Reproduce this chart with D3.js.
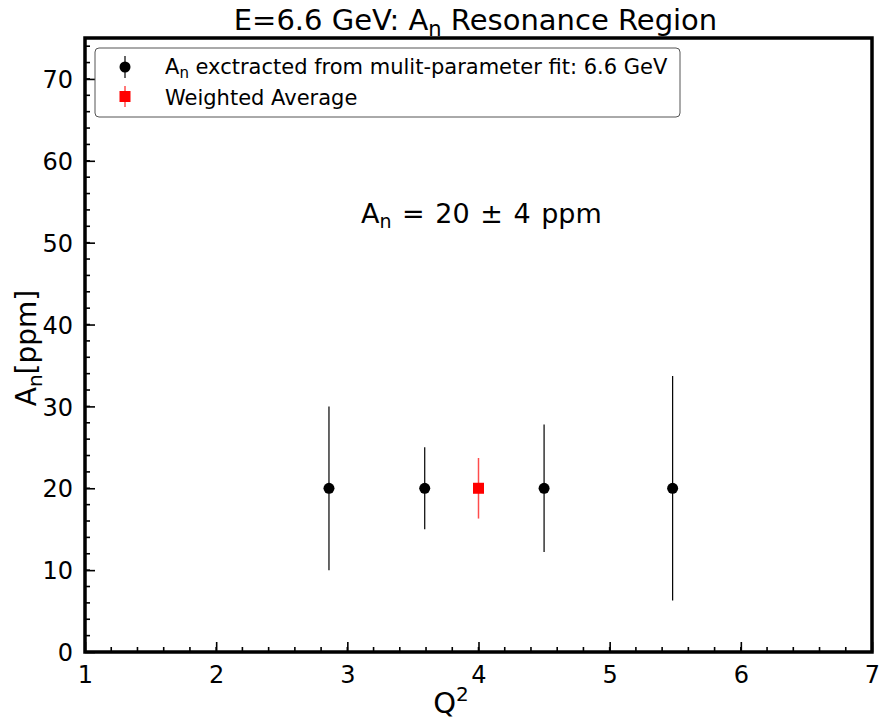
<!DOCTYPE html>
<html>
<head>
<meta charset="utf-8">
<script src="https://cdn.jsdelivr.net/npm/d3@7"></script>
<style>
  body { margin: 0; background: #fff; }
  svg { font-family: "DejaVu Sans", sans-serif; }
</style>
</head>
<body>
<div id="chart"></div>
<script>
const margin = { top: 38, right: 11, bottom: 72, left: 85 };
const width = 883 - margin.left - margin.right;
const height = 724 - margin.top - margin.bottom;

// Data
const q2 = [2.86, 3.59, 4.5, 5.48];
const an = [20, 20, 20, 20];
const anErr = [10, 5, 7.8, 13.7];
const avgQ2 = [4.0];
const avgAn = [20];
const avgErr = [3.7];
const xTicks = [1, 2, 3, 4, 5, 6, 7];
const yTicks = [0, 10, 20, 30, 40, 50, 60, 70];

const svg = d3.select("#chart").append("svg")
  .attr("width", 883).attr("height", 724);

const g = svg.append("g").attr("transform", `translate(${margin.left},${margin.top})`);

const x = d3.scaleLinear().domain([1, 7]).range([0, width]);
const y = d3.scaleLinear().domain([0, 75]).range([height, 0]);

// minor ticks
g.selectAll(".xminor").data(d3.range(1, 7.001, 0.2))
  .join("line")
  .attr("x1", d => x(d)).attr("x2", d => x(d))
  .attr("y1", height).attr("y2", height - 5)
  .attr("stroke", "#000").attr("stroke-width", 1.6);
g.selectAll(".yminor").data(d3.range(0, 75, 2))
  .join("line")
  .attr("x1", 0).attr("x2", 5)
  .attr("y1", d => y(d)).attr("y2", d => y(d))
  .attr("stroke", "#000").attr("stroke-width", 1.6);

// axes with inward ticks
const xAxis = g.append("g").attr("transform", `translate(0,${height})`)
  .call(d3.axisBottom(x).tickValues(xTicks).tickSize(-10).tickFormat(d3.format("d")));
const yAxis = g.append("g")
  .call(d3.axisLeft(y).tickValues(yTicks).tickSize(-10).tickFormat(d3.format("d")));
[xAxis, yAxis].forEach(a => {
  a.select(".domain").remove();
  a.selectAll(".tick line").attr("stroke-width", 1.6);
  a.selectAll("text").attr("font-size", 24).attr("fill", "#000").attr("font-family", "DejaVu Sans");
});
xAxis.selectAll("text").attr("dy", null).attr("y", 31);
yAxis.selectAll("text").attr("x", -12).attr("dy", "0.36em");

// frame
g.append("rect").attr("x", 0).attr("y", 0).attr("width", width).attr("height", height)
  .attr("fill", "none").attr("stroke", "#000").attr("stroke-width", 3.5);

// error bars + points
g.selectAll(".err").data(q2).join("line")
  .attr("x1", d => x(d)).attr("x2", d => x(d))
  .attr("y1", (d, i) => y(an[i] - anErr[i])).attr("y2", (d, i) => y(an[i] + anErr[i]))
  .attr("stroke", "#000").attr("stroke-width", 1.2);
g.selectAll(".pt").data(q2).join("circle")
  .attr("cx", d => x(d)).attr("cy", (d, i) => y(an[i])).attr("r", 5.5).attr("fill", "#000");

g.selectAll(".aerr").data(avgQ2).join("line")
  .attr("x1", d => x(d)).attr("x2", d => x(d))
  .attr("y1", (d, i) => y(avgAn[i] - avgErr[i])).attr("y2", (d, i) => y(avgAn[i] + avgErr[i]))
  .attr("stroke", "#ff0000").attr("stroke-opacity", 0.7).attr("stroke-width", 1.5);
g.selectAll(".apt").data(avgQ2).join("rect")
  .attr("x", d => x(d) - 5.5).attr("y", (d, i) => y(avgAn[i]) - 5.5)
  .attr("width", 11).attr("height", 11).attr("fill", "#ff0000");

// annotation
const ann = g.append("text").attr("x", 276).attr("y", 185).attr("font-size", 27).attr("fill", "#000");
ann.append("tspan").text("A");
ann.append("tspan").attr("font-size", 19).attr("dy", 5).text("n");
ann.append("tspan").attr("dy", -5).attr("word-spacing", 2).text(" = 20 ± 4 ppm");

// legend
const leg = g.append("g").attr("transform", "translate(10,10)");
leg.append("rect").attr("width", 585).attr("height", 69).attr("rx", 4)
  .attr("fill", "#fff").attr("stroke", "#555").attr("stroke-width", 1);
leg.append("line").attr("x1", 30).attr("x2", 30).attr("y1", 8).attr("y2", 30).attr("stroke", "#000").attr("stroke-width", 1.2);
leg.append("circle").attr("cx", 30).attr("cy", 19).attr("r", 5.5).attr("fill", "#000");
leg.append("line").attr("x1", 30).attr("x2", 30).attr("y1", 38).attr("y2", 59).attr("stroke", "#ff0000").attr("stroke-opacity", 0.7).attr("stroke-width", 1.5);
leg.append("rect").attr("x", 24.5).attr("y", 43).attr("width", 11).attr("height", 11).attr("fill", "#ff0000");
const l1 = leg.append("text").attr("x", 70).attr("y", 26).attr("font-size", 21).attr("fill", "#000");
l1.append("tspan").text("A");
l1.append("tspan").attr("font-size", 15).attr("dy", 4).text("n");
l1.append("tspan").attr("dy", -4).text(" exctracted from mulit-parameter fit: 6.6 GeV");
leg.append("text").attr("x", 70).attr("y", 57).attr("font-size", 21).attr("fill", "#000").text("Weighted Average");

// title
const t = svg.append("text").attr("x", margin.left + width / 2 - 3).attr("y", 30)
  .attr("text-anchor", "middle").attr("font-size", 29).attr("fill", "#000");
t.append("tspan").text("E=6.6 GeV: A");
t.append("tspan").attr("font-size", 21).attr("dy", 6).text("n");
t.append("tspan").attr("dy", -6).text(" Resonance Region");

// axis labels
const xl = svg.append("text").attr("x", 451).attr("y", 713)
  .attr("text-anchor", "middle").attr("font-size", 29).attr("fill", "#000");
xl.append("tspan").text("Q");
xl.append("tspan").attr("font-size", 20).attr("dy", -12).text("2");

const yl = svg.append("text").attr("transform", `translate(36,348) rotate(-90)`)
  .attr("text-anchor", "middle").attr("font-size", 28).attr("fill", "#000");
yl.append("tspan").text("A");
yl.append("tspan").attr("font-size", 20).attr("dy", 6).text("n");
yl.append("tspan").attr("dy", -6).text("[ppm]");
</script>
</body>
</html>
